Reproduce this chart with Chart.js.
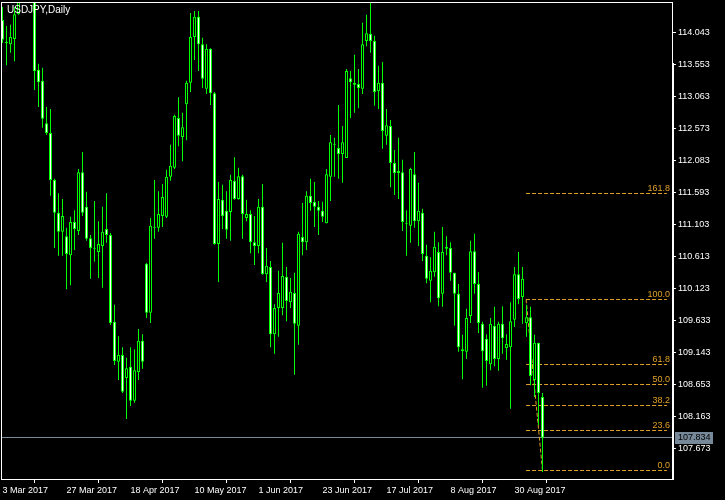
<!DOCTYPE html>
<html>
<head>
<meta charset="utf-8">
<script src="https://cdn.jsdelivr.net/npm/chart.js@4.4.0/dist/chart.umd.min.js"></script>
<style>
  html, body { margin: 0; padding: 0; background: #000; }
  #wrap { width: 725px; height: 500px; }
</style>
</head>
<body>
<div id="wrap"><canvas id="chartFX" width="725" height="500"></canvas></div>
<script>
// USDJPY daily candles, 3 Mar 2017 .. 8 Sep 2017 (one entry per trading day)
const opens = [
  114.23, 113.89, 113.86, 113.94, 114.32, 115.00, 114.80, 114.75, 114.72, 113.47,
  113.30, 112.65, 112.50, 111.78, 111.28, 110.99, 110.92, 110.63, 111.14, 111.00,
  111.90, 111.37, 110.89, 110.74, 110.68, 110.77, 111.03, 110.94, 109.61, 109.00,
  109.10, 108.75, 108.92, 108.40, 108.84, 109.32, 110.50, 109.75, 111.06, 111.05,
  111.23, 111.22, 111.83, 111.97, 112.73, 112.44, 112.94, 113.27, 113.97, 114.28,
  113.86, 113.18, 113.79, 113.11, 110.80, 111.48, 111.31, 111.29, 111.77, 111.49,
  111.84, 111.20, 111.26, 110.83, 110.77, 111.37, 110.34, 110.45, 109.42, 109.82,
  109.82, 110.30, 109.91, 110.05, 109.55, 110.91, 110.83, 111.54, 111.45, 111.37,
  111.31, 111.12, 111.83, 112.33, 112.27, 112.18, 112.12, 113.34, 113.27, 113.25,
  113.18, 113.91, 114.02, 113.91, 113.14, 113.27, 112.46, 112.61, 112.04, 111.89,
  111.90, 111.12, 111.08, 111.87, 111.15, 111.28, 110.62, 110.24, 110.37, 110.68,
  110.04, 110.73, 110.74, 110.36, 110.04, 109.19, 109.15, 109.70, 110.69, 110.19,
  109.58, 109.35, 108.96, 109.55, 109.04, 109.58, 109.21, 109.22, 109.64, 110.34,
  109.99, 109.59, 109.68, 108.72, 109.29, 108.46
];
const highs = [
  114.43, 114.14, 114.16, 114.43, 115.07, 115.50, 115.04, 114.91, 115.15, 113.56,
  113.50, 112.90, 112.87, 111.80, 111.58, 111.49, 111.05, 111.22, 111.32, 111.95,
  112.21, 111.60, 110.94, 111.46, 111.15, 111.37, 111.58, 110.97, 109.87, 109.39,
  109.22, 109.06, 109.22, 109.19, 109.50, 109.42, 110.51, 111.20, 111.78, 111.61,
  111.72, 111.94, 112.32, 112.78, 113.05, 112.81, 113.30, 114.34, 114.37, 114.37,
  113.96, 113.86, 113.80, 113.13, 111.75, 111.71, 111.61, 111.86, 112.13, 111.97,
  111.86, 111.48, 111.32, 111.23, 111.49, 111.72, 110.74, 110.54, 109.88, 110.39,
  110.82, 110.45, 110.28, 110.36, 110.99, 111.43, 111.61, 111.80, 111.75, 111.46,
  111.45, 111.95, 112.47, 112.43, 112.93, 112.61, 113.48, 113.45, 113.70, 113.48,
  114.19, 114.31, 114.49, 113.99, 113.53, 113.59, 112.87, 112.70, 112.24, 112.43,
  112.09, 111.32, 111.97, 112.21, 111.74, 111.34, 110.79, 110.60, 110.99, 110.83,
  111.06, 110.92, 110.83, 110.36, 110.19, 109.41, 109.81, 110.85, 110.96, 110.37,
  109.61, 109.42, 109.67, 109.84, 109.61, 109.85, 109.42, 109.91, 110.45, 110.68,
  110.45, 109.87, 109.84, 109.41, 109.29, 108.52
];
const lows = [
  113.88, 113.54, 113.73, 113.60, 114.31, 114.54, 114.49, 114.57, 113.16, 112.90,
  112.58, 112.47, 111.54, 110.74, 110.62, 110.62, 110.11, 110.17, 110.71, 110.94,
  111.23, 110.85, 110.27, 110.53, 110.28, 110.13, 110.82, 109.56, 108.95, 108.72,
  108.52, 108.12, 108.32, 108.37, 108.72, 108.89, 109.67, 109.59, 110.88, 110.99,
  111.06, 111.20, 111.77, 111.95, 112.30, 112.07, 112.39, 113.13, 113.62, 113.45,
  113.19, 113.10, 112.93, 110.79, 110.22, 111.03, 110.88, 110.85, 111.48, 111.48,
  110.88, 111.15, 110.66, 110.48, 110.66, 110.33, 110.22, 109.22, 109.12, 109.38,
  109.71, 109.62, 109.82, 108.80, 109.26, 110.63, 110.71, 111.31, 111.06, 110.94,
  111.14, 111.12, 111.46, 111.83, 111.80, 111.74, 112.12, 112.73, 112.81, 112.88,
  113.10, 113.83, 113.73, 112.92, 112.87, 112.26, 112.32, 111.67, 111.55, 111.49,
  111.00, 110.62, 110.82, 111.05, 110.77, 110.54, 110.20, 109.91, 110.30, 109.85,
  109.84, 110.63, 110.24, 109.55, 109.15, 108.73, 109.04, 109.59, 110.04, 109.44,
  108.60, 108.63, 108.87, 108.93, 108.86, 109.12, 109.03, 108.28, 109.53, 109.88,
  109.58, 109.38, 108.64, 108.46, 108.03, 107.31
];
const closes = [
  113.93, 113.88, 113.97, 114.32, 114.92, 114.80, 114.75, 114.72, 113.45, 113.28,
  112.72, 112.50, 111.78, 111.28, 110.99, 111.23, 110.65, 111.14, 111.03, 111.90,
  111.28, 110.88, 110.74, 110.73, 110.80, 110.99, 110.94, 109.59, 109.01, 109.10,
  108.54, 108.90, 108.40, 108.87, 109.32, 109.00, 109.75, 111.08, 111.05, 111.26,
  111.52, 111.83, 112.00, 112.76, 112.46, 112.59, 113.27, 113.97, 114.28, 113.86,
  113.33, 113.79, 113.11, 110.80, 111.49, 111.23, 111.02, 111.78, 111.49, 111.84,
  111.26, 111.26, 110.83, 110.77, 111.37, 110.34, 110.47, 109.42, 109.82, 110.05,
  110.31, 109.93, 110.07, 109.58, 110.96, 110.83, 111.54, 111.43, 111.37, 111.31,
  111.22, 111.87, 112.36, 112.32, 112.18, 112.36, 113.45, 113.28, 113.24, 113.19,
  113.86, 114.03, 113.91, 113.13, 113.27, 112.53, 112.62, 112.04, 111.89, 111.92,
  111.14, 111.11, 111.95, 111.15, 111.31, 110.65, 110.27, 110.39, 110.76, 109.97,
  110.68, 110.76, 110.36, 110.04, 109.22, 109.16, 109.67, 110.69, 110.19, 109.59,
  109.16, 109.01, 109.58, 109.04, 109.58, 109.36, 109.27, 109.62, 110.34, 109.96,
  110.27, 109.68, 108.78, 109.29, 108.52, 107.834
];

const tickIdx = [0, 16, 32, 48, 64, 80, 96, 112, 128];
const tickLabels = ['3 Mar 2017', '27 Mar 2017', '18 Apr 2017', '10 May 2017', '1 Jun 2017',
                    '23 Jun 2017', '17 Jul 2017', '8 Aug 2017', '30 Aug 2017'];
const priceTicks = [107.673, 108.163, 108.653, 109.143, 109.633, 110.123, 110.613,
                    111.103, 111.593, 112.083, 112.573, 113.063, 113.553, 114.043];

// fibonacci retracement drawn on the chart
const fibRatios = [0, 23.6, 38.2, 50.0, 61.8, 100.0, 161.8];
const fibHigh = 109.955, fibLow = 107.333;
const fibFrom = 130.9, fibTo = 135, fibEnd = 166.1;
const bidPrice = 107.834;

const GREEN = '#00ff00';
const FIB = '#e0a028';
const FONT = 'Liberation Sans';

const idx = opens.map((_, i) => i);
const bodies = idx.map(i => ({ x: i, y: [opens[i], closes[i]] }));
const wicks = idx.map(i => ({ x: i, y: [lows[i], highs[i]] }));
const bodyFill = idx.map(i => closes[i] < opens[i] ? '#ffffff' : '#000000');

const fibPrice = r => fibLow + (fibHigh - fibLow) * r / 100;

const fibSets = fibRatios.map(r => ({
    type: 'line',
    data: [{ x: fibFrom, y: fibPrice(r) }, { x: fibEnd, y: fibPrice(r) }],
    borderColor: FIB, borderWidth: 1, borderDash: [4, 2],
    pointRadius: 0, order: 2,
    snapY: fibPrice(r)
}));

// no label padding: the plot area must fill the frame exactly
const noPad = s => { s.paddingTop = 0; s.paddingBottom = 0; s.paddingLeft = 0; s.paddingRight = 0; };

let overlay = {
    id: 'overlay',
    beforeDraw(chart) {
        const c = chart.ctx;
        c.save();
        c.fillStyle = '#000';
        c.fillRect(0, 0, chart.width, chart.height);
        c.restore();
    },
    // keep horizontal 1px lines sharp
    beforeDatasetDraw(chart, args) {
        const ds = chart.data.datasets[args.index];
        chart.ctx.save();
        if (ds.snapY !== undefined) {
            const py = chart.scales.y.getPixelForValue(ds.snapY);
            chart.ctx.translate(0, Math.floor(py) + 0.5 - py);
        }
    },
    afterDatasetDraw(chart) {
        chart.ctx.restore();
    },
    afterDraw(chart) {
        const c = chart.ctx;
        const y = chart.scales.y;
        c.save();
        // frame
        c.strokeStyle = '#fff';
        c.lineWidth = 1;
        c.strokeRect(1.5, 2.5, 671, 477);
        c.fillStyle = '#fff';
        c.fillRect(673, 63, 1, 417);
        // title
        c.font = '10px "' + FONT + '"';
        c.textAlign = 'left';
        c.textBaseline = 'alphabetic';
        c.fillText('USDJPY,Daily', 7, 13);
        // fibo labels
        c.font = '9px "' + FONT + '"';
        c.fillStyle = FIB;
        c.textAlign = 'right';
        fibRatios.forEach(r => {
            c.fillText(r.toFixed(1), 670, Math.floor(y.getPixelForValue(fibPrice(r))) - 2);
        });
        // bid price box
        const by = Math.floor(y.getPixelForValue(bidPrice));
        c.fillStyle = '#778899';
        c.fillRect(675, by - 5, 38, 12);
        c.fillStyle = '#000';
        c.textAlign = 'left';
        c.textBaseline = 'middle';
        c.fillText(bidPrice.toFixed(3), 678, by + 1);
        c.restore();
    }
};

let ctxFX = document.querySelector('#chartFX').getContext('2d');
let chartFX = new Chart(ctxFX, {
    type: 'bar',
    data: {
        datasets: [{
            label: 'body',
            data: bodies,
            backgroundColor: bodyFill,
            borderColor: GREEN,
            borderWidth: 1,
            borderSkipped: false,
            barThickness: 3,
            minBarLength: 1,
            inflateAmount: 0,
            grouped: false,
            clip: 0,
            order: 0
        }, {
            label: 'wick',
            data: wicks,
            backgroundColor: GREEN,
            borderWidth: 0,
            barThickness: 1,
            inflateAmount: 0,
            grouped: false,
            clip: 0,
            order: 1
        }, ...fibSets, {
            type: 'line',
            data: [{ x: fibFrom, y: fibHigh }, { x: fibTo, y: fibLow }],
            borderColor: FIB, borderWidth: 1, borderDash: [4, 2],
            pointRadius: 0, order: 2
        }, {
            type: 'line',
            data: [{ x: -0.125, y: bidPrice }, { x: 167.375, y: bidPrice }],
            borderColor: '#778899', borderWidth: 1,
            pointRadius: 0, order: 3,
            snapY: bidPrice
        }]
    },
    options: {
        responsive: false,
        animation: false,
        events: [],
        plugins: {
            legend: { display: false },
            tooltip: { enabled: false }
        },
        layout: {
            padding: { left: 2, top: 2, right: 0, bottom: 0 }
        },
        scales: {
            x: {
                type: 'linear',
                min: -0.125,
                max: 167.375,
                offset: false,
                afterBuildTicks: s => { s.ticks = tickIdx.map(v => ({ value: v })); },
                afterFit: s => { s.height = 21; noPad(s); },
                grid: { drawOnChartArea: false, tickLength: 4, color: '#fff' },
                border: { display: false },
                ticks: {
                    color: '#fff',
                    align: 'start',
                    padding: 2,
                    maxRotation: 0,
                    autoSkip: false,
                    font: { family: FONT, size: 9 },
                    callback: (v, i) => tickLabels[i]
                }
            },
            y: {
                position: 'right',
                min: 107.203,
                max: 114.507,
                afterBuildTicks: s => { s.ticks = priceTicks.map(v => ({ value: v })); },
                afterFit: s => { s.width = 53; noPad(s); },
                grid: { drawOnChartArea: false, tickLength: 4, color: '#fff' },
                border: { display: false },
                ticks: {
                    color: '#fff',
                    padding: 2,
                    autoSkip: false,
                    font: { family: FONT, size: 9 },
                    callback: v => v.toFixed(3)
                }
            }
        }
    },
    plugins: [overlay]
});
</script>
</body>
</html>
